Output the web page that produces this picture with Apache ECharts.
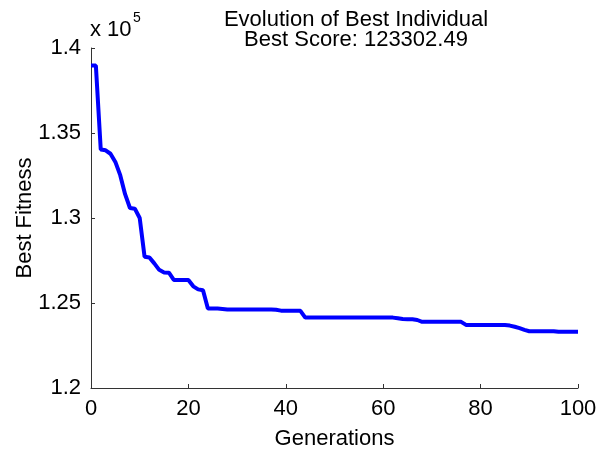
<!DOCTYPE html>
<html lang="en">
<head>
    <meta charset="UTF-8">
    <title>Evolution of Best Individual</title>
    <script src="https://cdnjs.cloudflare.com/ajax/libs/echarts/6.0.0/echarts.min.js"></script>
</head>
<body style="margin:0;background:#fff">
    <div id="mycharts" style="width:608px;height:455px;"></div>
    <script>
        // best fitness per generation
        var generations = []
        for (var g = 0; g <= 100; g++) generations.push(g)
        var bestFitness = [
            138970, 138970, 134030, 133980, 133780, 133300, 132520, 131400, 130590, 130550,
            130000, 127720, 127680, 127330, 126950, 126800, 126780, 126360, 126360, 126360,
            126350, 125980, 125800, 125750, 124680, 124680, 124670, 124650, 124620, 124620,
            124620, 124620, 124620, 124620, 124620, 124620, 124620, 124620, 124600, 124550,
            124550, 124550, 124550, 124540, 124140, 124140, 124140, 124140, 124140, 124140,
            124140, 124140, 124140, 124140, 124140, 124140, 124140, 124140, 124140, 124140,
            124140, 124140, 124140, 124100, 124060, 124050, 124040, 124000, 123890, 123890,
            123890, 123890, 123890, 123890, 123890, 123890, 123890, 123710, 123700, 123700,
            123700, 123700, 123700, 123700, 123700, 123700, 123670, 123600, 123520, 123420,
            123340, 123340, 123340, 123340, 123340, 123340, 123302.49, 123302.49, 123302.49, 123302.49,
            123302.49
        ]
        var xTicks = [0, 20, 40, 60, 80, 100]
        var yTicks = ['1.2', '1.25', '1.3', '1.35', '1.4']

        var font = 'Liberation Sans, Arial, sans-serif'
        var chart = echarts.init(document.getElementById('mycharts'))
        var options = {
            animation: false,
            backgroundColor: '#fff',
            title: {
                text: 'Evolution of Best Individual\nBest Score: 123302.49',
                left: 356,
                top: 10,
                padding: 0,
                textAlign: 'center',
                textStyle: {
                    fontFamily: font,
                    fontSize: 22,
                    fontWeight: 'normal',
                    color: '#000',
                    lineHeight: 20
                }
            },
            graphic: [
                { type: 'text', left: 90, top: 19, style: { text: 'x 10', font: '22px ' + font, fill: '#000' } },
                { type: 'text', left: 133, top: 11, style: { text: '5', font: '14px ' + font, fill: '#000' } }
            ],
            grid: { left: 91, right: 30, top: 48, bottom: 63 },
            xAxis: {
                type: 'value',
                min: 0,
                max: 100,
                interval: 20,
                name: 'Generations',
                nameLocation: 'middle',
                nameGap: 40,
                nameMoveOverlap: false,
                nameTextStyle: { fontFamily: font, fontSize: 22, color: '#000' },
                axisLine: { lineStyle: { color: '#333', width: 1 } },
                axisTick: { inside: true, length: 4, lineStyle: { color: '#333' } },
                axisLabel: {
                    margin: 10, fontFamily: font, fontSize: 22, color: '#000',
                    formatter: function (v) { return xTicks.indexOf(v) >= 0 ? String(v) : '' }
                },
                splitLine: { show: false }
            },
            yAxis: {
                type: 'value',
                min: 120000,
                max: 140000,
                interval: 5000,
                name: 'Best Fitness',
                nameLocation: 'middle',
                nameGap: 55,
                nameMoveOverlap: false,
                nameTextStyle: { fontFamily: font, fontSize: 22, color: '#000' },
                axisLine: { show: true, lineStyle: { color: '#333', width: 1 } },
                axisTick: { show: true, inside: true, length: 4, lineStyle: { color: '#333' } },
                axisLabel: {
                    margin: 10, fontFamily: font, fontSize: 22, color: '#000',
                    formatter: function (v) { return yTicks[Math.round((v - 120000) / 5000)] }
                },
                splitLine: { show: false }
            },
            series: [{
                type: 'line',
                data: generations.map(function (g, i) { return [g, bestFitness[i]] }),
                showSymbol: false,
                lineStyle: { color: '#0000ff', width: 4 },
                itemStyle: { color: '#0000ff' }
            }]
        }
        chart.setOption(options)
    </script>
</body>
</html>
